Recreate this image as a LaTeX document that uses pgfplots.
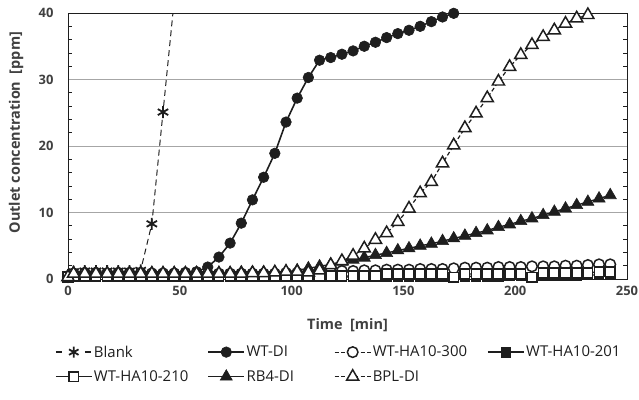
\documentclass[border=0pt]{standalone}
\usepackage{fontspec}
\setmainfont{Open Sans}
\usepackage{pgfplots}
\pgfplotsset{compat=1.18}

\definecolor{ink}{HTML}{1E1E1E}
\definecolor{lbl}{HTML}{404040}

\begin{document}
\begin{tikzpicture}
\path[use as bounding box] (-68bp,-121bp) rectangle (571bp,279bp);
\begin{axis}[
    at={(0,0)}, anchor=south west,
    scale only axis,
    width=559bp, height=266bp,
    xmin=0, xmax=250, ymin=0, ymax=40,
    xtick={0,50,...,250},
    ytick={0,10,...,40},
    minor y tick num=4,
    tick align=inside,
    major tick length=0bp,
    minor tick length=4bp,
    xminorticks=false,
    ymajorgrids,
    grid style={black!35, line width=0.6pt},
    axis line style={ink, line width=0.8pt},
    every tick/.style={ink, line width=0.8pt},
    /pgf/number format/assume math mode=true,
    tick label style={font=\fontsize{13}{15}\selectfont\bfseries, text=lbl},
    yticklabel style={xshift=-11bp},
    xticklabel style={yshift=-4bp},
    xlabel={Time\ \ [min]},
    ylabel={Outlet concentration\ \ [ppm]},
    label style={font=\fontsize{14.5}{17}\selectfont\bfseries, text=lbl},
    x label style={at={(axis description cs:0.5,0)}, anchor=center, yshift=-46bp},
    y label style={at={(axis description cs:-0.093,0.55)}, anchor=center},
    legend columns=4,
    legend cell align=left,
    legend style={draw=none, fill=none, at={(axis description cs:0.484,-0.235)}, anchor=north,
        font=\fontsize{15}{18}\selectfont, text=ink, column sep=0bp, row sep=8bp,
        nodes={inner xsep=1.5bp}},
    legend image code/.code={\draw[mark repeat=2, mark phase=2, #1] plot coordinates {(0bp,0bp) (18bp,0bp) (36bp,0bp)};},
]
% Blank
\addplot[ink, line width=1pt, dash pattern=on 6bp off 4bp, mark=asterisk, mark size=6bp,
    mark options={solid, line width=1.8pt}, mark indices={1,2,3,4,5,6,7,8,9,10},
    legend image code/.code={
      \draw[ink, line width=1.4pt] (0bp,0bp) -- (7bp,0bp) (29bp,0bp) -- (36bp,0bp);
      \draw[ink, line width=1.8pt] plot[only marks, mark=asterisk, mark size=5.5bp] coordinates {(18bp,0bp)};}
    ] coordinates {
    (0,0.6) (2.5,1.1) (7.5,1.2) (12.5,1.2) (17.5,1.2) (22.5,1.2) (27.5,1.2) (32.5,1.3)
    (37.5,8.3) (42.5,25.1) (47.5,41.9)
};
\addlegendentry{\makebox[112bp][l]{Blank}}
% WT-DI
\addplot[ink, line width=1.6pt, mark=*, mark size=5.3bp, mark options={solid, line width=0.6pt}] coordinates {
    (0,0.5) (2.5,0.9) (7.5,1.0) (12.5,1.0) (17.5,0.9) (22.5,1.0) (27.5,1.0) (32.5,1.0)
    (37.5,0.9) (42.5,0.9) (47.5,0.9) (52.5,1.0) (57.5,1.1) (62.5,1.8) (67.5,3.3) (72.5,5.4)
    (77.5,8.4) (82.5,11.9) (87.5,15.3) (92.5,18.9) (97.5,23.6) (102.5,27.2) (107.5,30.3)
    (112.5,32.9) (117.5,33.3) (122.5,33.8) (127.5,34.3) (132.5,35.0) (137.5,35.6) (142.5,36.3)
    (147.5,36.9) (152.5,37.4) (157.5,38.0) (162.5,38.7) (167.5,39.4) (172.5,39.95)
};
\addlegendentry{\makebox[86bp][l]{WT-DI}}
% WT-HA10-300
\addplot[ink, line width=1.2pt, dash pattern=on 4bp off 2.5bp, mark=*, mark size=5.3bp,
    mark options={solid, fill=white, line width=1.5pt}] coordinates {
    (0,0.3) (2.5,0.8) (7.5,0.8) (12.5,0.8) (17.5,0.8) (22.5,0.8) (27.5,0.8) (32.5,0.8)
    (37.5,0.8) (42.5,0.8) (47.5,0.8) (52.5,0.8) (57.5,0.8) (62.5,0.8) (67.5,0.8) (72.5,0.8)
    (77.5,0.8) (82.5,0.8) (87.5,0.8) (92.5,0.8) (97.5,0.9) (102.5,0.9) (107.5,1.0) (112.5,1.0)
    (117.5,1.1) (122.5,1.2) (127.5,1.2) (132.5,1.3) (137.5,1.3) (142.5,1.4) (147.5,1.4)
    (152.5,1.4) (157.5,1.5) (162.5,1.5) (167.5,1.5) (172.5,1.6) (177.5,1.7) (182.5,1.7)
    (187.5,1.7) (192.5,1.8) (197.5,1.8) (202.5,1.8) (207.5,1.9) (212.5,1.9) (217.5,1.9)
    (222.5,2.0) (227.5,2.0) (232.5,2.1) (237.5,2.2) (242.5,2.2)
};
\addlegendentry{\makebox[113bp][l]{WT-HA10-300}}
% WT-HA10-201
\addplot[ink, line width=1.4pt, mark=square*, mark size=4.8bp, mark options={solid, line width=0.8pt}] coordinates {
    (0,0.2) (2.5,0.3) (7.5,0.3) (12.5,0.3) (17.5,0.3) (22.5,0.3) (27.5,0.3) (32.5,0.3)
    (37.5,0.3) (42.5,0.3) (47.5,0.3) (52.5,0.3) (57.5,0.3) (62.5,0.3) (67.5,0.3) (72.5,0.3)
    (77.5,0.3) (82.5,0.3) (87.5,0.3) (92.5,0.3) (97.5,0.3) (102.5,0.3) (107.5,0.3) (112.5,0.3)
    (117.5,0.3) (122.5,0.3) (127.5,0.3) (132.5,0.3) (137.5,0.3) (142.5,0.4) (147.5,0.4)
    (152.5,0.4) (157.5,0.4) (162.5,0.4) (167.5,0.4) (172.5,0.2) (177.5,0.4) (182.5,0.4)
    (187.5,0.4) (192.5,0.4) (197.5,0.5) (202.5,0.5) (207.5,0.2) (212.5,0.5) (217.5,0.5)
    (222.5,0.5) (227.5,0.5) (232.5,0.6) (237.5,0.6) (242.5,0.6)
};
\addlegendentry{WT-HA10-201}
% WT-HA10-210
\addplot[ink, line width=1.4pt, mark=square*, mark size=4.8bp, mark options={solid, fill=white, line width=1.5pt}] coordinates {
    (0,0.3) (2.5,0.4) (7.5,0.4) (12.5,0.4) (17.5,0.4) (22.5,0.4) (27.5,0.4) (32.5,0.4)
    (37.5,0.4) (42.5,0.4) (47.5,0.4) (52.5,0.4) (57.5,0.4) (62.5,0.4) (67.5,0.4) (72.5,0.4)
    (77.5,0.4) (82.5,0.4) (87.5,0.4) (92.5,0.4) (97.5,0.4) (102.5,0.4) (107.5,0.4) (112.5,0.45)
    (117.5,0.45) (122.5,0.45) (127.5,0.45) (132.5,0.45) (137.5,0.45) (142.5,0.75) (147.5,0.75)
    (152.5,0.75) (157.5,0.75) (162.5,0.75) (167.5,0.75) (172.5,0.25) (177.5,0.75) (182.5,0.75)
    (187.5,0.75) (192.5,0.75) (197.5,0.75) (202.5,0.75) (207.5,0.25) (212.5,0.9) (217.5,0.9)
    (222.5,0.9) (227.5,0.9) (232.5,0.9) (237.5,1.1) (242.5,1.1)
};
\addlegendentry{\makebox[112bp][l]{WT-HA10-210}}
% RB4-DI
\addplot[ink, line width=1.4pt, mark=triangle*, mark size=7bp, mark options={solid, line width=0.6pt}] coordinates {
    (0,0.3) (2.5,0.9) (7.5,0.9) (12.5,0.9) (17.5,0.9) (22.5,0.9) (27.5,0.9) (32.5,0.9)
    (37.5,0.9) (42.5,0.9) (47.5,0.9) (52.5,0.9) (57.5,0.9) (62.5,0.9) (67.5,0.9) (72.5,0.9)
    (77.5,1.0) (82.5,1.0) (87.5,1.0) (92.5,1.0) (97.5,1.1) (102.5,1.3) (107.5,1.6) (112.5,1.9)
    (117.5,2.2) (122.5,2.6) (127.5,2.9) (132.5,3.2) (137.5,3.6) (142.5,3.9) (147.5,4.3)
    (152.5,4.6) (157.5,5.0) (162.5,5.3) (167.5,5.7) (172.5,6.1) (177.5,6.5) (182.5,6.9)
    (187.5,7.3) (192.5,7.8) (197.5,8.2) (202.5,8.7) (207.5,9.1) (212.5,9.6) (217.5,10.1)
    (222.5,10.6) (227.5,11.1) (232.5,11.6) (237.5,12.1) (242.5,12.6)
};
\addlegendentry{RB4-DI}
% BPL-DI
\addplot[ink, line width=1.2pt, dash pattern=on 4bp off 2.5bp, mark=triangle*, mark size=7bp,
    mark options={solid, fill=white, line width=1.5pt}] coordinates {
    (0,0.3) (2.5,0.8) (7.5,0.8) (12.5,0.8) (17.5,0.8) (22.5,0.8) (27.5,0.8) (32.5,0.8)
    (37.5,0.8) (42.5,0.8) (47.5,0.8) (52.5,0.8) (57.5,0.8) (62.5,0.8) (67.5,0.8) (72.5,0.8)
    (77.5,0.8) (82.5,0.9) (87.5,0.9) (92.5,1.0) (97.5,1.1) (102.5,1.1) (107.5,1.0) (112.5,1.3)
    (117.5,2.1) (122.5,2.7) (127.5,3.5) (132.5,4.6) (137.5,5.9) (142.5,6.9) (147.5,8.6)
    (152.5,10.6) (157.5,12.9) (162.5,14.6) (167.5,17.4) (172.5,20.1) (177.5,22.7) (182.5,24.9)
    (187.5,27.2) (192.5,29.7) (197.5,31.9) (202.5,33.7) (207.5,35.2) (212.5,36.4) (217.5,37.4)
    (222.5,38.4) (227.5,39.2) (232.5,39.7)
};
\addlegendentry{BPL-DI}
\end{axis}
\end{tikzpicture}
\end{document}
